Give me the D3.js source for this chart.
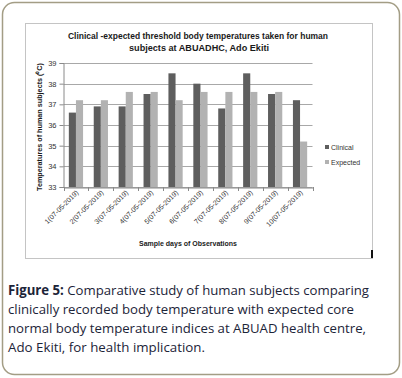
<!DOCTYPE html>
<html>
<head>
<meta charset="utf-8">
<script src="https://cdn.jsdelivr.net/npm/d3@7"></script>
<style>
  html, body { margin: 0; padding: 0; background: #fff; }
  svg { display: block; }
</style>
</head>
<body>
<svg id="chart"></svg>
<script>
var days = ["1(07-05-2019)", "2(07-05-2019)", "3(07-05-2019)", "4(07-05-2019)", "5(07-05-2019)",
            "6(07-05-2019)", "7(07-05-2019)", "8(07-05-2019)", "9(07-05-2019)", "10(07-05-2019)"];
var clinical = [36.6, 36.9, 36.9, 37.5, 38.5, 38.0, 36.8, 38.5, 37.5, 37.2];
var expected = [37.2, 37.2, 37.6, 37.6, 37.2, 37.6, 37.6, 37.6, 37.6, 35.2];
var seriesNames = ["Clinical", "Expected"];
var yTicks = [33, 34, 35, 36, 37, 38, 39];

var width = 402, height = 378;
var colors = {"Clinical": "#5e5e5e", "Expected": "#b2b2b2"};

var svg = d3.select("#chart").attr("width", width).attr("height", height);

// outer rounded panel
svg.append("rect")
  .attr("x", 2.5).attr("y", 2.5)
  .attr("width", 397).attr("height", 372)
  .attr("rx", 12).attr("ry", 12)
  .attr("fill", "#fff")
  .attr("stroke", "#a39d85")
  .attr("stroke-width", 1.5);

// chart frame
svg.append("rect")
  .attr("x", 25.5).attr("y", 23.5)
  .attr("width", 347).attr("height", 235)
  .attr("fill", "#fff")
  .attr("stroke", "#c4c4c4");

svg.append("rect")
  .attr("x", 371).attr("y", 250)
  .attr("width", 2).attr("height", 8)
  .attr("fill", "#111");

// title
var title = svg.append("text")
  .attr("text-anchor", "middle")
  .style("font-family", "'Liberation Sans', Arial, sans-serif")
  .style("font-weight", "bold")
  .style("font-size", "8.5px")
  .attr("fill", "#1a1a1a");
title.append("tspan").attr("x", 198).attr("y", 39)
  .attr("textLength", 260).attr("lengthAdjust", "spacingAndGlyphs")
  .text("Clinical -expected threshold body temperatures taken for human");
title.append("tspan").attr("x", 199).attr("y", 51)
  .attr("textLength", 140).attr("lengthAdjust", "spacingAndGlyphs")
  .text("subjects at ABUADHC, Ado Ekiti");

// scales
var x0 = d3.scaleBand()
  .domain(days)
  .range([63.5, 312.5])
  .padding(0);

var x1 = d3.scaleBand()
  .domain(seriesNames)
  .range([0, x0.bandwidth()])
  .paddingInner(0)
  .paddingOuter(0.75);

var y = d3.scaleLinear()
  .domain([33, 39])
  .range([187, 63]);

// gridlines
svg.append("g")
  .selectAll("line")
  .data(yTicks)
  .enter().append("line")
  .attr("x1", 63.5).attr("x2", 312.5)
  .attr("y1", function(d) { return Math.round(y(d)) + 0.5; })
  .attr("y2", function(d) { return Math.round(y(d)) + 0.5; })
  .attr("stroke", "#a8a8a8");

// bars
var rows = days.map(function(d, i) {
  return {day: d, values: [{key: "Clinical", v: clinical[i]}, {key: "Expected", v: expected[i]}]};
});

var groups = svg.append("g")
  .selectAll("g")
  .data(rows)
  .enter().append("g")
  .attr("transform", function(d) { return "translate(" + x0(d.day) + ",0)"; });

groups.selectAll("rect")
  .data(function(d) { return d.values; })
  .enter().append("rect")
  .attr("x", function(d) { return x1(d.key); })
  .attr("width", x1.bandwidth())
  .attr("y", function(d) { return y(d.v); })
  .attr("height", function(d) { return y(33) - y(d.v); })
  .attr("fill", function(d) { return colors[d.key]; });

// y axis
var yAxis = svg.append("g")
  .attr("transform", "translate(63.5,0)")
  .call(d3.axisLeft(y).tickValues(yTicks).tickSize(4).tickPadding(3).tickFormat(d3.format("d")));
yAxis.select(".domain").attr("stroke", "#8a8a8a");
yAxis.selectAll(".tick line").attr("stroke", "#8a8a8a");
yAxis.selectAll("text")
  .attr("fill", "#333")
  .style("font-family", "'Liberation Sans', Arial, sans-serif")
  .style("font-size", "7.5px");

// x axis
var xAxis = svg.append("g")
  .attr("transform", "translate(0," + (y(33) + 0.5) + ")")
  .call(d3.axisBottom(x0).tickSize(0).tickFormat(""));
xAxis.select(".domain").attr("stroke", "#8a8a8a");

svg.append("g")
  .selectAll("line")
  .data(d3.range(days.length + 1))
  .enter().append("line")
  .attr("x1", function(i) { return Math.round(63.5 + i * x0.step()) + 0.5; })
  .attr("x2", function(i) { return Math.round(63.5 + i * x0.step()) + 0.5; })
  .attr("y1", y(33)).attr("y2", y(33) + 4)
  .attr("stroke", "#8a8a8a");

svg.append("g")
  .selectAll("text")
  .data(days)
  .enter().append("text")
  .attr("text-anchor", "end")
  .attr("transform", function(d) {
    return "translate(" + (x0(d) + x0.bandwidth() / 2 + 3) + ",193) rotate(-45)";
  })
  .attr("fill", "#333")
  .style("font-family", "'Liberation Sans', Arial, sans-serif")
  .style("font-size", "7px")
  .text(function(d) { return d; });

// axis titles
svg.append("text")
  .attr("x", 188).attr("y", 246)
  .attr("text-anchor", "middle")
  .attr("textLength", 98).attr("lengthAdjust", "spacingAndGlyphs")
  .attr("fill", "#1a1a1a")
  .style("font-family", "'Liberation Sans', Arial, sans-serif")
  .style("font-weight", "bold")
  .style("font-size", "7.5px")
  .text("Sample days of Observations");

svg.append("text")
  .attr("transform", "translate(42,127) rotate(-90)")
  .attr("text-anchor", "middle")
  .attr("textLength", 128).attr("lengthAdjust", "spacingAndGlyphs")
  .attr("fill", "#1a1a1a")
  .style("font-family", "'Liberation Sans', Arial, sans-serif")
  .style("font-weight", "bold")
  .style("font-size", "7.5px")
  .text("Temperatures of human subjects (\u2070C)");

// legend
var legend = svg.append("g")
  .selectAll("g")
  .data(seriesNames)
  .enter().append("g")
  .attr("transform", function(d, i) { return "translate(325," + (148 + i * 15) + ")"; });
legend.append("rect")
  .attr("x", 0).attr("y", -3)
  .attr("width", 4).attr("height", 4)
  .attr("fill", function(d) { return colors[d]; });
legend.append("text")
  .attr("x", 6).attr("y", 2)
  .attr("fill", "#333")
  .style("font-family", "'Liberation Sans', Arial, sans-serif")
  .style("font-size", "7px")
  .text(function(d) { return d; });

// caption
var captionLines = [
  [{t: "Figure 5:", b: true}, {t: " Comparative study of human subjects comparing", b: false}],
  [{t: "clinically recorded body temperature with expected core", b: false}],
  [{t: "normal body temperature indices at ABUAD health centre,", b: false}],
  [{t: "Ado Ekiti, for health implication.", b: false}]
];
var captionWidths = [361, 346, 358, 197];
var caption = svg.append("g")
  .style("font-family", "'Open Sans', 'Noto Sans', sans-serif")
  .style("font-size", "13.5px")
  .attr("fill", "#1c2438");
captionLines.forEach(function(line, i) {
  var t = caption.append("text")
    .attr("x", 8).attr("y", 295 + i * 19)
    .attr("textLength", captionWidths[i]).attr("lengthAdjust", "spacingAndGlyphs");
  line.forEach(function(part) {
    t.append("tspan")
      .style("font-weight", part.b ? "bold" : "normal")
      .text(part.t);
  });
});
</script>
</body>
</html>
